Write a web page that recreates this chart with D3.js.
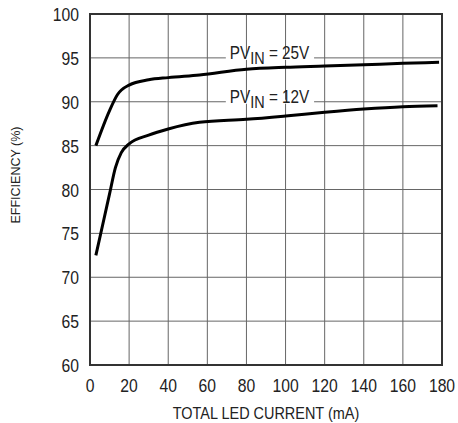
<!DOCTYPE html>
<html>
<head>
<meta charset="utf-8">
<script src="https://cdn.jsdelivr.net/npm/d3@7"></script>
<style>
body { margin: 0; background: #fff; }
text { font-family: "Liberation Sans", Arial, sans-serif; fill: #222; }
</style>
</head>
<body>
<svg id="chart" width="458" height="423"></svg>
<script>
// efficiency vs total LED current
var xTicks = [0, 20, 40, 60, 80, 100, 120, 140, 160, 180];
var yTicks = [60, 65, 70, 75, 80, 85, 90, 95, 100];

var pv25 = [[3, 85], [10, 89], [14, 90.8], [20, 91.9], [30, 92.5], [40, 92.75], [56, 93.05],
            [80, 93.7], [100, 93.93], [120, 94.07], [140, 94.22], [160, 94.38], [178.5, 94.5]];
var pv12 = [[3, 72.5], [7, 76.5], [10, 79.5], [13, 82.5], [16, 84.2], [20, 85.2], [30, 86.2],
            [40, 86.9], [56, 87.66], [80, 88.0], [100, 88.38], [120, 88.8], [140, 89.17],
            [160, 89.44], [177.7, 89.55]];

var seriesNames = ["25V", "12V"];
var labelAt = [[71.5, 95], [71.5, 90]]; // x value where label starts, gridline it sits on

var svg = d3.select("#chart");
var mLeft = 90, mRight = 442, mTop = 14, mBottom = 365;
var squeeze = 0.85; // the original type is a condensed face

var x = d3.scaleLinear().domain([0, 180]).range([mLeft, mRight]);
var y = d3.scaleLinear().domain([60, 100]).range([mBottom, mTop]);

function place(px, py){ return "translate(" + px + "," + py + ") scale(" + squeeze + ",1)"; }

// grid
svg.append("g").selectAll("line").data(xTicks.slice(1, -1)).enter().append("line")
  .attr("x1", function(d){ return x(d); }).attr("x2", function(d){ return x(d); })
  .attr("y1", mTop).attr("y2", mBottom)
  .attr("stroke", "#666").attr("stroke-width", 1);
svg.append("g").selectAll("line").data(yTicks.slice(1, -1)).enter().append("line")
  .attr("y1", function(d){ return y(d); }).attr("y2", function(d){ return y(d); })
  .attr("x1", mLeft).attr("x2", mRight)
  .attr("stroke", "#666").attr("stroke-width", 1);

// frame
svg.append("rect").attr("x", mLeft).attr("y", mTop)
  .attr("width", mRight - mLeft).attr("height", mBottom - mTop)
  .attr("fill", "none").attr("stroke", "#333").attr("stroke-width", 2);

// tick labels
svg.append("g").selectAll("text").data(yTicks).enter().append("text")
  .attr("transform", function(d){ return place(mLeft - 11, y(d) + 7); })
  .attr("text-anchor", "end").style("font-size", "18.5px")
  .text(function(d){ return d; });
svg.append("g").selectAll("text").data(xTicks).enter().append("text")
  .attr("transform", function(d){ return place(x(d), 392); })
  .attr("text-anchor", "middle").style("font-size", "18.5px")
  .text(function(d){ return d; });

svg.append("text").attr("transform", place(x(90), 419))
  .attr("text-anchor", "middle").style("font-size", "17px")
  .text("TOTAL LED CURRENT (mA)");
svg.append("text").attr("transform", "translate(20,175) rotate(-90)")
  .attr("text-anchor", "middle").style("font-size", "12.5px")
  .text("EFFICIENCY (%)");

// curves
var line = d3.line().x(function(d){ return x(d[0]); }).y(function(d){ return y(d[1]); })
  .curve(d3.curveMonotoneX);
[pv25, pv12].forEach(function(s){
  svg.append("path").attr("d", line(s)).attr("fill", "none")
    .attr("stroke", "#000").attr("stroke-width", 3).attr("stroke-linecap", "butt");
});

// series labels, white box knocks out the gridline
seriesNames.forEach(function(n, i){
  var g = svg.append("g");
  var bg = g.append("rect").attr("fill", "#fff");
  var x0 = x(labelAt[i][0]), y0 = y(labelAt[i][1]);
  var t = g.append("text").attr("transform", place(x0, y0 + 1.5))
    .style("font-size", "18px");
  t.append("tspan").text("PV");
  t.append("tspan").attr("dy", 4.5).style("font-size", "17px").text("IN");
  t.append("tspan").attr("dy", -4.5).text(" = " + n);
  var w = t.node().getBBox().width * squeeze;
  bg.attr("x", x0 - 4).attr("y", y0 - 2).attr("width", w + 8).attr("height", 4);
});
</script>
</body>
</html>
